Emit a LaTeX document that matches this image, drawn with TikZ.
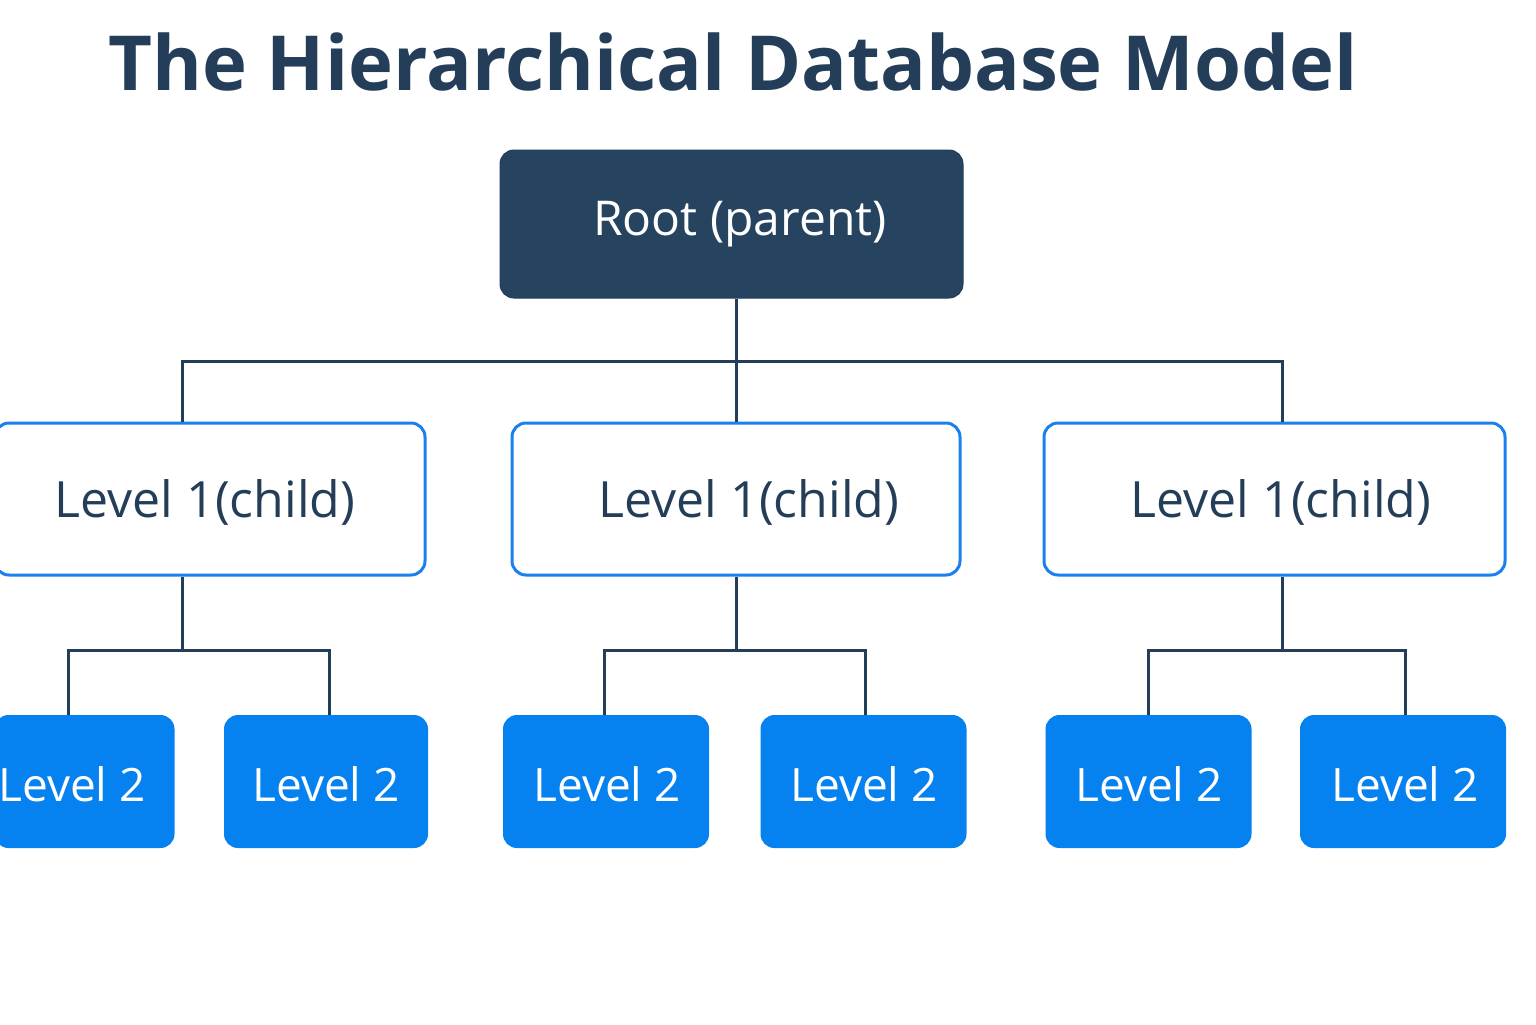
\documentclass[tikz,border=0pt]{standalone}
\usepackage{fontspec}
\setmainfont{Open Sans}
\begin{document}
\begin{tikzpicture}[x=0.5pt,y=-0.5pt,
  conn/.style={draw=navy,line width=1.5pt},
  rootbox/.style={draw=navy,fill=rootc,rounded corners=7pt,line width=0.5pt,minimum width=231.5pt,minimum height=74pt,inner sep=0pt,text=white,font=\fontsize{24}{28}\selectfont},
  lone/.style={draw=blue1,fill=white,rounded corners=7pt,line width=1.5pt,minimum height=76pt,inner sep=0pt,text=navy,font=\fontsize{25}{30}\selectfont},
  ltwo/.style={fill=blue2,rounded corners=7pt,minimum width=103pt,minimum height=66.5pt,inner sep=0pt,text=white,font=\fontsize{23}{28}\selectfont}]
\definecolor{navy}{HTML}{243E5A}
\definecolor{rootc}{HTML}{26435F}
\definecolor{blue1}{HTML}{1A80EE}
\definecolor{blue2}{HTML}{0582F0}
\useasboundingbox (0,0) rectangle (1536,1024);
\node[text=navy,font=\bfseries\fontsize{38}{44}\selectfont] (title) at (733,62) {The Hierarchical Database Model};
\node[rootbox] (root) at (731.5,224) {};
\node[text=white,font=\fontsize{24}{28}\selectfont] (roott) at (740,224) {Root (parent)};
\node[lone,minimum width=215pt] (a) at (210,499) {};
\node[lone,minimum width=224pt] (b) at (736,499) {};
\node[lone,minimum width=230.5pt] (c) at (1274.5,499) {};
\node[text=navy,font=\fontsize{25}{30}\selectfont] (at) at (205,502) {Level 1(child)};
\node[text=navy,font=\fontsize{25}{30}\selectfont] (bt) at (749,502) {Level 1(child)};
\node[text=navy,font=\fontsize{25}{30}\selectfont] (ct) at (1281,502) {Level 1(child)};
\node[ltwo,minimum width=90pt] (a1) at (84.5,781.5) {};
\node[ltwo,minimum width=102pt] (a2) at (326,781.5) {};
\node[ltwo] (b1) at (606,781.5) {};
\node[ltwo] (b2) at (863.5,781.5) {};
\node[ltwo] (c1) at (1148.5,781.5) {};
\node[ltwo] (c2) at (1403,781.5) {};
\node[text=white,font=\fontsize{23}{28}\selectfont] (a1t) at (72,784) {Level 2};
\node[text=white,font=\fontsize{23}{28}\selectfont] (a2t) at (326,784) {Level 2};
\node[text=white,font=\fontsize{23}{28}\selectfont] (b1t) at (607,784) {Level 2};
\node[text=white,font=\fontsize{23}{28}\selectfont] (b2t) at (864,784) {Level 2};
\node[text=white,font=\fontsize{23}{28}\selectfont] (c1t) at (1149,784) {Level 2};
\node[text=white,font=\fontsize{23}{28}\selectfont] (c2t) at (1405,784) {Level 2};
\coordinate (ax) at (182,0); \coordinate (bx) at (736,0); \coordinate (cx) at (1282,0);
\coordinate (h1) at (0,361); \coordinate (h2) at (0,650);
\coordinate (a1x) at (68,0); \coordinate (a2x) at (329,0);
\coordinate (b1x) at (604,0); \coordinate (b2x) at (865,0);
\coordinate (c1x) at (1148,0); \coordinate (c2x) at (1405,0);
\draw[conn] (root.south -| bx) -- (h1 -| bx);
\draw[conn] (a.north -| ax) |- (h1 -| cx) -- (c.north -| cx);
\draw[conn] (h1 -| bx) -- (b.north -| bx);
\draw[conn] (a.south -| ax) -- (h2 -| ax);
\draw[conn] (a1.north -| a1x) |- (h2 -| a2x) -- (a2.north -| a2x);
\draw[conn] (b.south -| bx) -- (h2 -| bx);
\draw[conn] (b1.north -| b1x) |- (h2 -| b2x) -- (b2.north -| b2x);
\draw[conn] (c.south -| cx) -- (h2 -| cx);
\draw[conn] (c1.north -| c1x) |- (h2 -| c2x) -- (c2.north -| c2x);
\end{tikzpicture}
\end{document}
